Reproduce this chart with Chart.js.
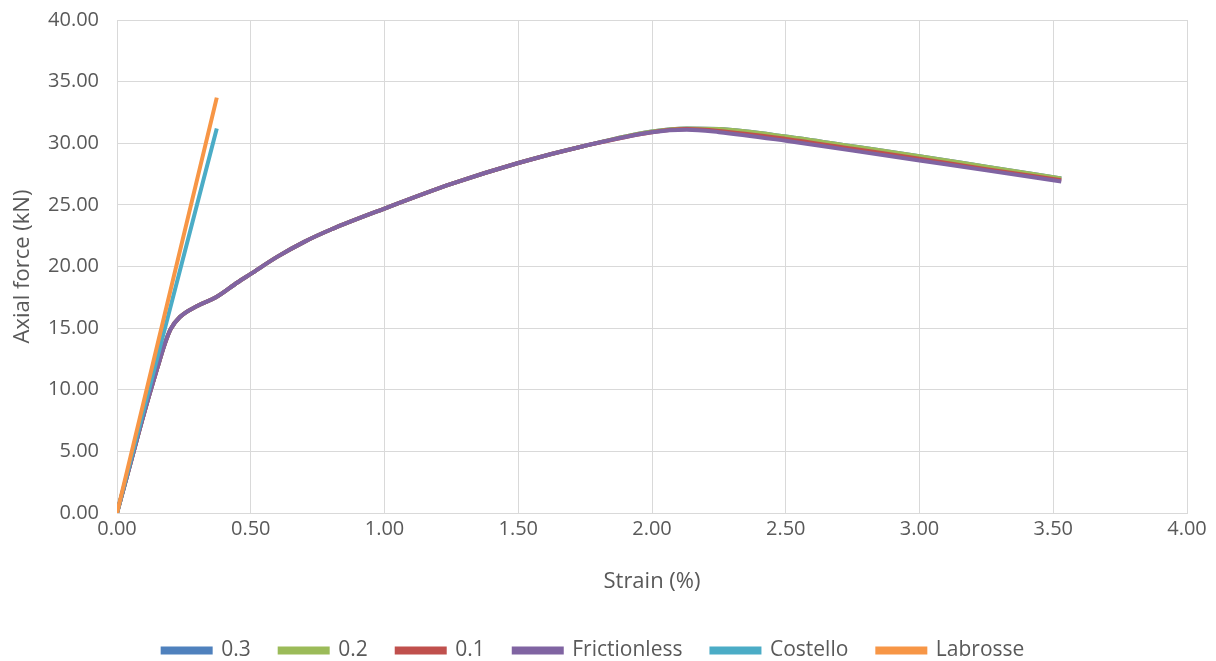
<!DOCTYPE html>
<html>
<head>
<meta charset="utf-8">
<script src="https://cdn.jsdelivr.net/npm/chart.js@4.4.0/dist/chart.umd.min.js"></script>
<style>
    html, body { margin: 0; padding: 0; background: #fff; }
    #wrap { width: 1216px; height: 661px; }
</style>
</head>
<body>
<div id="wrap"><canvas id="chartStrain"></canvas></div>
<script>
// strain (%) samples for the friction curves
const strainF = [0, 0.05, 0.10, 0.15, 0.18, 0.20, 0.235, 0.30, 0.37, 0.45, 0.50, 0.60, 0.70, 0.80, 1.00, 1.25, 1.50, 1.75, 2.00, 2.13, 2.25, 2.50, 2.75, 3.00, 3.25, 3.53]
const force03 = [0, 4.0, 8.0, 11.7, 13.8, 14.9, 15.9, 16.8, 17.5, 18.7, 19.4, 20.8, 22.0, 23.0, 24.7, 26.7, 28.4, 29.8, 30.95, 31.2, 31.15, 30.55, 29.75, 28.95, 28.1, 27.15]
const force02 = [0, 4.0, 8.0, 11.7, 13.8, 14.9, 15.9, 16.8, 17.5, 18.7, 19.4, 20.8, 22.0, 23.0, 24.7, 26.7, 28.4, 29.8, 30.95, 31.2, 31.15, 30.55, 29.75, 28.95, 28.1, 27.15]
const force01 = [0, 4.0, 8.0, 11.7, 13.8, 14.9, 15.9, 16.8, 17.5, 18.7, 19.4, 20.8, 22.0, 23.0, 24.7, 26.7, 28.4, 29.8, 30.9, 31.15, 31.0, 30.35, 29.55, 28.75, 27.9, 27.0]
const forceFrictionless = [0, 4.0, 8.0, 11.7, 13.8, 14.9, 15.9, 16.8, 17.5, 18.7, 19.4, 20.8, 22.0, 23.0, 24.7, 26.7, 28.4, 29.8, 30.9, 31.1, 30.9, 30.2, 29.4, 28.6, 27.8, 26.9]
const strainCostello = [0, 0.373]
const forceCostello = [0, 31.2]
const strainLabrosse = [0, 0.373]
const forceLabrosse = [0, 33.7]

const labels = ['0.3', '0.2', '0.1', 'Frictionless', 'Costello', 'Labrosse']
const cores = ['#4F81BD', '#9BBB59', '#C0504D', '#8064A2', '#4BACC6', '#F79646']

const pontos = (xs, ys) => xs.map((x, i) => ({ x: x, y: ys[i] }))

const series = [
    pontos(strainF, force03),
    pontos(strainF, force02),
    pontos(strainF, force01),
    pontos(strainF, forceFrictionless),
    pontos(strainCostello, forceCostello),
    pontos(strainLabrosse, forceLabrosse)
]

const textColor = '#595959'
const gridColor = '#d9d9d9'
const fonte = "'Open Sans', sans-serif"

var ctx = document.getElementById('chartStrain').getContext('2d');

var chartStrain = new Chart(ctx, {
    type: 'scatter',
    data: {
        datasets: series.map((d, i) => ({
            label: labels[i],
            data: d,
            showLine: true,
            borderColor: cores[i],
            backgroundColor: cores[i],
            borderWidth: 4,
            pointRadius: 0,
            pointHoverRadius: 0,
            cubicInterpolationMode: 'monotone',
            fill: false,
            // later series sit on top, like the original
            order: 6 - i
        }))
    },
    options: {
        responsive: true,
        maintainAspectRatio: false,
        animation: false,
        layout: { padding: { top: 20, right: 29, bottom: -10, left: 0 } },
        plugins: {
            tooltip: { enabled: false },
            legend: {
                position: 'bottom',
                labels: {
                    color: textColor,
                    font: { family: fonte, size: 21 },
                    boxWidth: 48,
                    boxHeight: 4,
                    padding: 29,
                    sort: (a, b) => a.datasetIndex - b.datasetIndex
                }
            }
        },
        scales: {
            x: {
                type: 'linear',
                min: 0,
                max: 4,
                ticks: {
                    stepSize: 0.5,
                    color: textColor,
                    font: { family: fonte, size: 20 },
                    padding: 4,
                    callback: v => v.toFixed(2)
                },
                grid: { color: gridColor, drawTicks: false },
                border: { color: gridColor },
                title: {
                    display: true,
                    text: 'Strain (%)',
                    color: textColor,
                    font: { family: fonte, size: 22 },
                    padding: { top: 0, bottom: 16 }
                },
                afterFit: scale => { scale.height = 98 }
            },
            y: {
                min: 0,
                max: 40,
                ticks: {
                    stepSize: 5,
                    color: textColor,
                    font: { family: fonte, size: 20 },
                    padding: 18,
                    callback: v => v.toFixed(2)
                },
                grid: { color: gridColor, drawTicks: false },
                border: { display: false },
                title: {
                    display: true,
                    text: 'Axial force (kN)',
                    color: textColor,
                    font: { family: fonte, size: 22 },
                    padding: { top: 10, bottom: 0 }
                },
                afterFit: scale => {
                    scale.width = 117
                    scale.paddingTop = 0
                    scale.paddingBottom = 0
                }
            }
        }
    }
});
</script>
</body>
</html>
